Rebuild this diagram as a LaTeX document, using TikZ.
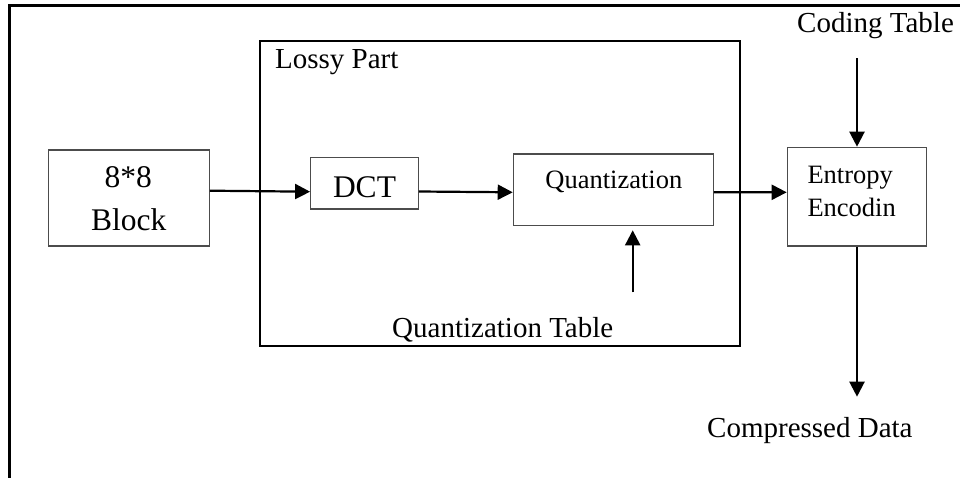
\documentclass[tikz,border=0pt]{standalone}
\usepackage{fontspec}
\setmainfont{Liberation Serif}
\usetikzlibrary{arrows.meta}

\tikzset{
  frameline/.style={line width=2.5pt, draw=black},
  blockbox/.style={draw=black!70, line width=1.2pt, rectangle, inner sep=0pt, fill=none},
  flow/.style={line width=2.2pt, -{Triangle[length=15pt, width=15pt]}},
  lbl/.style={inner sep=0pt, font=\fontsize{29}{34}\selectfont},
  bigtxt/.style={inner sep=0pt, font=\fontsize{31.5}{36}\selectfont},
  smalltxt/.style={inner sep=0pt, font=\fontsize{26.5}{31}\selectfont},
}

\begin{document}
\begin{tikzpicture}[x=1pt, y=-1pt]
  \useasboundingbox (0,0) rectangle (960,478);

  % outer frame (runs off the right and bottom edges)
  \draw[frameline] (9.7,485) -- (9.7,5.5) -- (970,5.5);

  % lossy part enclosure
  \draw[frameline] (260,41) rectangle (740,346);
  \node[lbl, anchor=base west] (lossy) at (275,68.3) {Lossy Part};

  % processing blocks
  \node[blockbox, minimum width=161pt, minimum height=96pt] (blk) at (128.8,198) {};
  \node[bigtxt, anchor=base] (blkA) at (128.3,187.7) {8*8};
  \node[bigtxt, anchor=base] (blkB) at (128.8,230.7) {Block};

  \node[blockbox, minimum width=107.6pt, minimum height=51.3pt] (dct) at (364.5,183.35) {};
  \node[bigtxt, anchor=base] (dcttxt) at (364.5,197.3) {DCT};

  \node[blockbox, minimum width=200pt, minimum height=71.7pt] (quant) at (613.3,189.85) {};
  \node[smalltxt, anchor=base] (quanttxt) at (613.8,188.3) {Quantization};

  \node[blockbox, minimum width=139.4pt, minimum height=98.7pt] (ent) at (857,196.65) {};
  \node[smalltxt, anchor=base west] (entA) at (807.3,183.3) {Entropy};
  \node[smalltxt, anchor=base west] (entB) at (807.3,216.7) {Encodin};

  % side labels
  \node[lbl, anchor=base west] (ctab) at (797,32.7) {Coding Table};
  \node[lbl, anchor=base west] (qtab) at (392,337.7) {Quantization Table};
  \node[lbl, anchor=base west] (cdata) at (707,437.7) {Compressed Data};

  % free ends of the side arrows
  \coordinate (ctin) at (857,58.3);
  \coordinate (cdout) at (857,396.7);
  \coordinate (qtin) at (632.7,292.3);

  % data flow
  \draw[flow] ([yshift=7.3pt]blk.east) -- ([yshift=-8.35pt]dct.west);
  \draw[flow] ([yshift=-8.15pt]dct.east) -- ([yshift=-2.45pt]quant.west);
  \draw[flow] ([yshift=-2.45pt]quant.east) -- ([yshift=4.35pt]ent.west);
  \draw[flow] (ctin) -- (ent.north);
  \draw[flow] (ent.south) -- (cdout);
  \draw[flow] (qtin) -- ([xshift=19.4pt, yshift=-4pt]quant.south);
\end{tikzpicture}
\end{document}
